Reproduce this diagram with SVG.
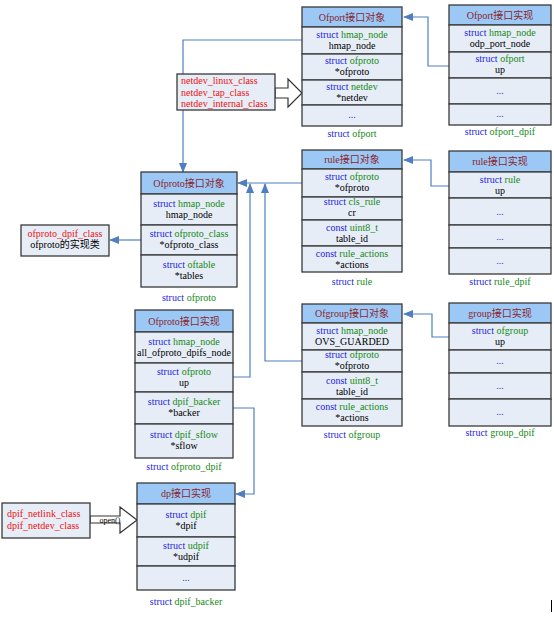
<svg xmlns="http://www.w3.org/2000/svg" width="554" height="626" viewBox="0 0 554 626">
<defs>
<style>
text{font-family:"Liberation Serif","Noto Sans CJK SC",serif;font-size:10px;text-anchor:middle;fill:#000}
.h{fill:#9cc8f6;stroke:#3a3a3a;stroke-width:1.3}
.r{fill:#e6edf7;stroke:#3a3a3a;stroke-width:1.3}
.ht{fill:#8b1f2a}
.s{fill:#1f1fe0}
.t{fill:#168a16}
.d{fill:#3a3ad0}
.red{fill:#f01010;text-anchor:start}
.c{fill:none;stroke:#4f7fc0;stroke-width:1.2}
.ca{fill:none;stroke:#4f7fc0;stroke-width:1.2;marker-end:url(#ah)}
.ha{fill:#fff;stroke:#333;stroke-width:1.2}
</style>
<marker id="ah" markerUnits="userSpaceOnUse" markerWidth="10" markerHeight="8" refX="9" refY="4" orient="auto">
<path d="M0,0 L10,4 L0,8 Z" fill="#4f7fc0"/>
</marker>
</defs>

<g id="connectors">
<polyline class="ca" points="449,66 428,66 428,17 404,17"/>
<polyline class="ca" points="302,40 183,40 183,172"/>
<polyline class="ca" points="449,186 431,186 431,160 404,160"/>
<polyline class="ca" points="302,183 238,183"/>
<polyline class="ca" points="233,377 250,377 250,184"/>
<polyline class="ca" points="302,361 265,361 265,184"/>
<polyline class="ca" points="449,337 432,337 432,314 404,314"/>
<polyline class="ca" points="233,408 254,408 254,494 236,494"/>
<polyline class="ca" points="141,240 110,240"/>
<polygon class="ha" points="275,88 288,88 288,79 302,93 288,107 288,98 275,98"/>
<polygon class="ha" points="90,516 120,516 120,507 137,520 120,533 120,523 90,523"/>
<text x="110" y="523" style="font-size:8px">open()</text>
</g>

<g id="ofport">
<rect class="h" x="302" y="7" width="100" height="20"/>
<rect class="r" x="302" y="27" width="100" height="27"/>
<rect class="r" x="302" y="54" width="100" height="26"/>
<rect class="r" x="302" y="80" width="100" height="25"/>
<rect class="r" x="302" y="105" width="100" height="21"/>
<text x="352" y="21" class="ht">Ofport接口对象</text>
<text x="352" y="38"><tspan class="s">struct </tspan><tspan class="t">hmap_node</tspan></text>
<text x="352" y="49">hmap_node</text>
<text x="352" y="64"><tspan class="s">struct </tspan><tspan class="t">ofproto</tspan></text>
<text x="352" y="75">*ofproto</text>
<text x="352" y="90"><tspan class="s">struct </tspan><tspan class="t">netdev</tspan></text>
<text x="352" y="101">*netdev</text>
<text x="352" y="118" class="d">...</text>
<text x="352" y="137"><tspan class="s">struct </tspan><tspan class="t">ofport</tspan></text>
</g>

<g id="ofport_dpif">
<rect class="h" x="449" y="5" width="102" height="20"/>
<rect class="r" x="449" y="25" width="102" height="27"/>
<rect class="r" x="449" y="52" width="102" height="26"/>
<rect class="r" x="449" y="78" width="102" height="26"/>
<rect class="r" x="449" y="104" width="102" height="21"/>
<text x="500" y="19" class="ht">Ofport接口实现</text>
<text x="500" y="36"><tspan class="s">struct </tspan><tspan class="t">hmap_node</tspan></text>
<text x="500" y="47">odp_port_node</text>
<text x="500" y="62"><tspan class="s">struct </tspan><tspan class="t">ofport</tspan></text>
<text x="500" y="73">up</text>
<text x="500" y="94" class="d">...</text>
<text x="500" y="117" class="d">...</text>
<text x="500" y="135"><tspan class="s">struct </tspan><tspan class="t">ofport_dpif</tspan></text>
</g>

<g id="netdev_classes">
<rect class="r" x="177" y="74" width="98" height="36"/>
<text x="181" y="84" class="red">netdev_linux_class</text>
<text x="181" y="95.5" class="red">netdev_tap_class</text>
<text x="181" y="107" class="red">netdev_internal_class</text>
</g>

<g id="ofproto">
<rect class="h" x="141" y="172" width="96" height="22"/>
<rect class="r" x="141" y="194" width="96" height="31"/>
<rect class="r" x="141" y="225" width="96" height="30"/>
<rect class="r" x="141" y="255" width="96" height="32"/>
<text x="189" y="187" class="ht">Ofproto接口对象</text>
<text x="189" y="207"><tspan class="s">struct </tspan><tspan class="t">hmap_node</tspan></text>
<text x="189" y="218">hmap_node</text>
<text x="189" y="237"><tspan class="s">struct </tspan><tspan class="t">ofproto_class</tspan></text>
<text x="189" y="248">*ofproto_class</text>
<text x="189" y="268"><tspan class="s">struct </tspan><tspan class="t">oftable</tspan></text>
<text x="189" y="279">*tables</text>
<text x="189" y="301"><tspan class="s">struct </tspan><tspan class="t">ofproto</tspan></text>
</g>

<g id="ofproto_dpif_class">
<rect class="r" x="21" y="225" width="88" height="31"/>
<text x="65" y="237" style="fill:#f01010">ofproto_dpif_class</text>
<text x="65" y="248">ofproto的实现类</text>
</g>

<g id="rule">
<rect class="h" x="302" y="150" width="100" height="19"/>
<rect class="r" x="302" y="169" width="100" height="28"/>
<rect class="r" x="302" y="197" width="100" height="23"/>
<rect class="r" x="302" y="220" width="100" height="26"/>
<rect class="r" x="302" y="246" width="100" height="26"/>
<text x="352" y="163" class="ht">rule接口对象</text>
<text x="352" y="180"><tspan class="s">struct </tspan><tspan class="t">ofproto</tspan></text>
<text x="352" y="191">*ofproto</text>
<text x="352" y="205"><tspan class="s">struct </tspan><tspan class="t">cls_rule</tspan></text>
<text x="352" y="216">cr</text>
<text x="352" y="231"><tspan class="s">const </tspan><tspan class="t">uint8_t</tspan></text>
<text x="352" y="242">table_id</text>
<text x="352" y="257"><tspan class="s">const </tspan><tspan class="t">rule_actions</tspan></text>
<text x="352" y="268">*actions</text>
<text x="352" y="285"><tspan class="s">struct </tspan><tspan class="t">rule</tspan></text>
</g>

<g id="rule_dpif">
<rect class="h" x="449" y="151" width="102" height="21"/>
<rect class="r" x="449" y="172" width="102" height="26"/>
<rect class="r" x="449" y="198" width="102" height="27"/>
<rect class="r" x="449" y="225" width="102" height="23"/>
<rect class="r" x="449" y="248" width="102" height="26"/>
<text x="500" y="165" class="ht">rule接口实现</text>
<text x="500" y="183"><tspan class="s">struct </tspan><tspan class="t">rule</tspan></text>
<text x="500" y="194">up</text>
<text x="500" y="215" class="d">...</text>
<text x="500" y="240" class="d">...</text>
<text x="500" y="264" class="d">...</text>
<text x="500" y="285"><tspan class="s">struct </tspan><tspan class="t">rule_dpif</tspan></text>
</g>

<g id="ofproto_dpif">
<rect class="h" x="135" y="310" width="98" height="22"/>
<rect class="r" x="135" y="332" width="98" height="31"/>
<rect class="r" x="135" y="363" width="98" height="29"/>
<rect class="r" x="135" y="392" width="98" height="32"/>
<rect class="r" x="135" y="424" width="98" height="34"/>
<text x="184" y="325" class="ht">Ofproto接口实现</text>
<text x="184" y="345"><tspan class="s">struct </tspan><tspan class="t">hmap_node</tspan></text>
<text x="184" y="356">all_ofproto_dpifs_node</text>
<text x="184" y="375"><tspan class="s">struct </tspan><tspan class="t">ofproto</tspan></text>
<text x="184" y="386">up</text>
<text x="184" y="405"><tspan class="s">struct </tspan><tspan class="t">dpif_backer</tspan></text>
<text x="184" y="416">*backer</text>
<text x="184" y="438"><tspan class="s">struct </tspan><tspan class="t">dpif_sflow</tspan></text>
<text x="184" y="449">*sflow</text>
<text x="184" y="470"><tspan class="s">struct </tspan><tspan class="t">ofproto_dpif</tspan></text>
</g>

<g id="ofgroup">
<rect class="h" x="302" y="304" width="100" height="19"/>
<rect class="r" x="302" y="323" width="100" height="27"/>
<rect class="r" x="302" y="350" width="100" height="22"/>
<rect class="r" x="302" y="372" width="100" height="27"/>
<rect class="r" x="302" y="399" width="100" height="27"/>
<text x="352" y="317" class="ht">Ofgroup接口对象</text>
<text x="352" y="334"><tspan class="s">struct </tspan><tspan class="t">hmap_node</tspan></text>
<text x="352" y="345">OVS_GUARDED</text>
<text x="352" y="358"><tspan class="s">struct </tspan><tspan class="t">ofproto</tspan></text>
<text x="352" y="369">*ofproto</text>
<text x="352" y="384"><tspan class="s">const </tspan><tspan class="t">uint8_t</tspan></text>
<text x="352" y="395">table_id</text>
<text x="352" y="410"><tspan class="s">const </tspan><tspan class="t">rule_actions</tspan></text>
<text x="352" y="421">*actions</text>
<text x="352" y="438"><tspan class="s">struct </tspan><tspan class="t">ofgroup</tspan></text>
</g>

<g id="group_dpif">
<rect class="h" x="449" y="303" width="102" height="20"/>
<rect class="r" x="449" y="323" width="102" height="27"/>
<rect class="r" x="449" y="350" width="102" height="23"/>
<rect class="r" x="449" y="373" width="102" height="26"/>
<rect class="r" x="449" y="399" width="102" height="27"/>
<text x="500" y="317" class="ht">group接口实现</text>
<text x="500" y="334"><tspan class="s">struct </tspan><tspan class="t">ofgroup</tspan></text>
<text x="500" y="345">up</text>
<text x="500" y="364" class="d">...</text>
<text x="500" y="389" class="d">...</text>
<text x="500" y="415" class="d">...</text>
<text x="500" y="436"><tspan class="s">struct </tspan><tspan class="t">group_dpif</tspan></text>
</g>

<g id="dpif_backer">
<rect class="h" x="137" y="483" width="98" height="21"/>
<rect class="r" x="137" y="504" width="98" height="33"/>
<rect class="r" x="137" y="537" width="98" height="29"/>
<rect class="r" x="137" y="566" width="98" height="24"/>
<text x="186" y="497" class="ht">dp接口实现</text>
<text x="186" y="518"><tspan class="s">struct </tspan><tspan class="t">dpif</tspan></text>
<text x="186" y="529">*dpif</text>
<text x="186" y="549"><tspan class="s">struct </tspan><tspan class="t">udpif</tspan></text>
<text x="186" y="560">*udpif</text>
<text x="186" y="581" class="d">...</text>
<text x="186" y="605"><tspan class="s">struct </tspan><tspan class="t">dpif_backer</tspan></text>
</g>

<g id="dpif_classes">
<rect class="r" x="2" y="503" width="88" height="35"/>
<text x="7" y="516.5" class="red">dpif_netlink_class</text>
<text x="7" y="528.5" class="red">dpif_netdev_class</text>
</g>

<line x1="551.5" y1="600" x2="551.5" y2="612" stroke="#000" stroke-width="1"/>
</svg>
